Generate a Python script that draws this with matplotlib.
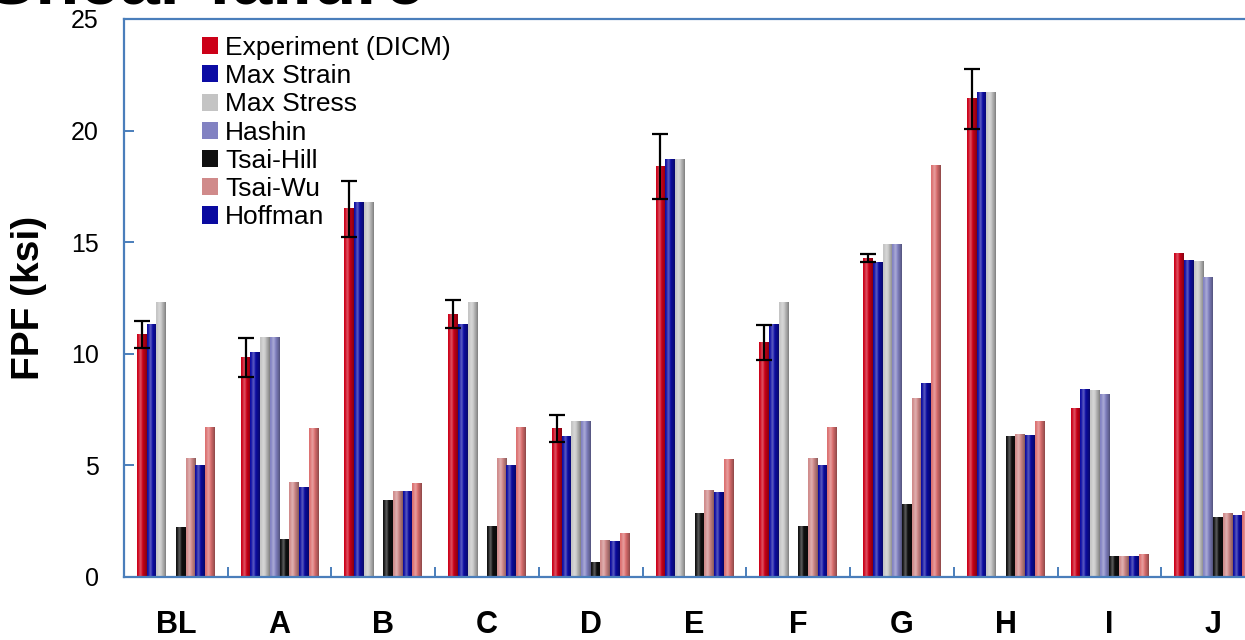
import numpy as np
import matplotlib
matplotlib.use("Agg")
from matplotlib import pyplot as plt
from matplotlib.patches import Patch
from matplotlib.ticker import MultipleLocator, FixedLocator

plt.rcParams['font.family'] = ['Liberation Sans', 'DejaVu Sans']

groups = ['BL', 'A', 'B', 'C', 'D', 'E', 'F', 'G', 'H', 'I', 'J']
nan = np.nan

experiment = [10.85, 9.82, 16.5, 11.78, 6.67, 18.4, 10.5, 14.29, 21.42, 7.53, 14.48]
exp_err = [0.6, 0.87, 1.25, 0.62, 0.6, 1.45, 0.78, 0.18, 1.35, nan, nan]
max_strain = [11.3, 10.07, 16.77, 11.3, 6.29, 18.7, 11.3, 14.07, 21.69, 8.39, 14.16]
max_stress = [12.32, 10.75, 16.77, 12.32, 6.97, 18.7, 12.3, 14.89, 21.69, 8.36, 14.14]
hashin = [nan, 10.75, nan, nan, 6.97, nan, nan, 14.89, nan, 8.16, 13.44]
tsai_hill = [2.21, 1.7, 3.42, 2.26, 0.66, 2.86, 2.26, 3.27, 6.29, 0.94, 2.66]
tsai_wu = [5.32, 4.25, 3.81, 5.32, 1.63, 3.86, 5.32, 8.01, 6.38, 0.94, 2.84]
hoffman = [4.99, 4.02, 3.81, 4.99, 1.58, 3.8, 4.99, 8.69, 6.32, 0.94, 2.74]
extra = [6.71, 6.67, 4.2, 6.71, 1.96, 5.25, 6.71, 18.43, 6.98, 1.03, 2.93]

series = [experiment, max_strain, max_stress, hashin, tsai_hill, tsai_wu, hoffman, extra]
labels = ['Experiment (DICM)', 'Max Strain', 'Max Stress', 'Hashin',
          'Tsai-Hill', 'Tsai-Wu', 'Hoffman', None]
colors = ['#cc0018', '#0c0ca4', '#c4c4c4', '#8282c2',
          '#101010', '#d08a8a', '#0a0aa0', '#dc7070']

W, H = 1245, 640
fig = plt.figure(figsize=(W / 100, H / 100), dpi=100)
ax = fig.add_axes([124 / W, 1 - 577 / H, 1141 / W, 558 / H])

width = 0.75 / len(series)
x = np.arange(len(groups)) + 0.5


def shade(bar, col):
    # fake the cylinder look of the original bars
    h = bar.get_height()
    if not np.isfinite(h) or h <= 0:
        return
    x0, w = bar.get_x(), bar.get_width()
    t = np.linspace(0, 1, 24)
    prof = 1.0 + 0.35 * np.exp(-((t - 0.35) / 0.18) ** 2) - 0.35 * t ** 3
    base = np.array(matplotlib.colors.to_rgb(col))
    rgb = np.empty((1, len(t), 3))
    for k, p in enumerate(prof):
        if p >= 1:
            rgb[0, k] = base + (1 - base) * (p - 1) * 0.9
        else:
            rgb[0, k] = base * p
    ax.imshow(np.clip(rgb, 0, 1), extent=[x0, x0 + w, 0, h], aspect='auto',
              interpolation='bilinear', zorder=2.1)


for j, (vals, col) in enumerate(zip(series, colors)):
    off = -0.375 + (j + 0.5) * width
    bars = ax.bar(x + off, vals, width, color=col, linewidth=0, zorder=2)
    for b in bars:
        shade(b, col)
    if j == 0:
        ax.errorbar(x + off, vals, yerr=exp_err, fmt='none', ecolor='black',
                    elinewidth=1.6, capsize=6, capthick=1.6, zorder=4)

ax.set_xlim(0, len(groups))
ax.set_ylim(0, 25)

spine_col = '#4a7ebb'
for s in ax.spines.values():
    s.set_color(spine_col)
    s.set_linewidth(1.6)

ax.yaxis.set_major_locator(MultipleLocator(5))
ax.tick_params(axis='y', direction='in', length=7, width=1.4, color=spine_col,
               labelsize=18, pad=18)
ax.xaxis.set_major_locator(FixedLocator(x))
ax.set_xticklabels(groups, fontsize=22, fontweight='bold')
ax.tick_params(axis='x', which='major', length=0, pad=23.5)
ax.xaxis.set_minor_locator(FixedLocator(np.arange(1, len(groups) + 1)))
ax.tick_params(axis='x', which='minor', direction='in', length=7, width=1.4,
               color=spine_col)

fig.text(29 / W, 1 - 298 / H, 'FPF (ksi)', rotation=90, ha='center', va='center',
         fontsize=28, fontweight='bold')

fig.text(425 / W, 1 - 4 / H, 'Shear failure', ha='right', va='baseline',
         fontsize=52, fontweight='bold')

handles = [Patch(facecolor=c, label=l) for c, l in zip(colors, labels) if l]
ax.legend(handles=handles, loc='upper left', bbox_to_anchor=(202 / W, 1 - 36 / H),
          bbox_transform=fig.transFigure, frameon=False, fontsize=19,
          borderpad=0, borderaxespad=0, labelspacing=0.16, handlelength=0.62,
          handleheight=0.62, handletextpad=0.25)

fig.savefig('out.png', dpi=100)
